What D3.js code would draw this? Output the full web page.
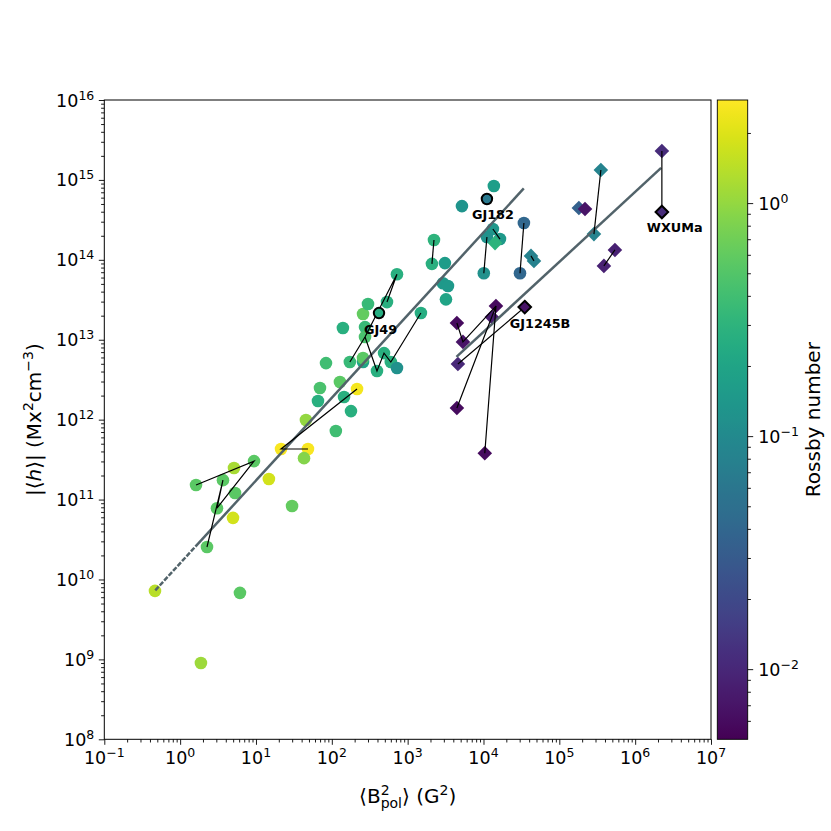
<!DOCTYPE html>
<html><head><meta charset="utf-8">
<script src="https://cdn.jsdelivr.net/npm/d3@7"></script>
<style>body{margin:0;background:#fff} text{font-family:"DejaVu Sans",sans-serif;fill:#000}</style>
</head><body><svg id="c" width="831" height="831"></svg>
<script>
// ---------------- DATA ----------------
// circles: <B_pol^2> (G^2), |<h>| (Mx^2 cm^-3), Rossby number
const circleB = [0.466, 6.15, 1.88, 1.62, 3.67, 5.13, 9.42, 5.29, 3.06, 4.98, 2.26, 14.8, 29.9, 21.4, 48.5, 43, 45.6, 69.8, 65.7, 113, 145, 179, 128, 215, 83.8, 173, 258, 258, 140, 274, 274, 258, 300, 419, 534, 723, 488, 394, 600, 723, 1496, 2223, 2090, 3100, 2920, 3400, 3200, 5200, 13700, 11100, 34100, 13300, 11100, 16500, 10100, 30300];
const circleH = [7.2e9, 6.8e9, 9.0e8, 1.52e11, 1.75e11, 2.48e11, 3.03e11, 1.21e11, 7.8e10, 5.9e10, 2.55e10, 1.81e11, 8.3e10, 4.29e11, 4.29e11, 3.3e11, 9.9e11, 2.49e12, 1.71e12, 7.2e11, 1.92e12, 1.28e12, 2.96e12, 2.42e12, 5.1e12, 5.26e12, 5.26e12, 5.9e12, 1.4e13, 1.44e13, 1.08e13, 2.1e13, 2.8e13, 2.16e13, 2.96e13, 6.6e13, 6.8e12, 4.06e12, 5.26e12, 4.43e12, 2.16e13, 1.77e14, 8.9e13, 9.1e13, 5.1e13, 4.7e13, 3.2e13, 4.7e14, 8.4e14, 5.77e14, 2.89e14, 2.43e14, 1.93e14, 1.82e14, 6.8e13, 6.8e13];
const circleRo = [1.4, 0.55, 1.1, 0.55, 0.55, 1.2, 0.55, 0.55, 0.55, 1.8, 0.55, 1.8, 0.6, 2.6, 2.6, 0.85, 1.0, 0.45, 0.27, 0.4, 0.27, 0.27, 0.55, 2.5, 0.4, 0.35, 0.2, 0.55, 0.27, 0.35, 0.45, 0.6, 0.35, 0.25, 0.27, 0.27, 0.27, 0.27, 0.27, 0.12, 0.25, 0.3, 0.27, 0.16, 0.15, 0.15, 0.2, 0.13, 0.17, 0.065, 0.04, 0.14, 0.12, 0.15, 0.12, 0.04];
const circleTracks = [[3,6,8,4,10],[14,13,23],[34,35,30,25],[30,37,36,38,40],[41,42],[51,53],[52,54],[50,55]];

// diamonds
const diamondB = [14200, 42300, 46300, 14600, 35000, 4460, 12900, 5360, 4600, 4460, 10400, 2.25e6, 2.25e6, 353000, 181000, 218000, 286000, 541000, 387000];
const diamondH = [1.62e14, 1.12e14, 9.7e13, 2.64e13, 2.56e13, 1.62e13, 1.92e13, 9.4e12, 4.97e12, 1.40e12, 3.8e11, 2.3e15, 3.97e14, 1.33e15, 4.45e14, 4.32e14, 2.1e14, 1.33e14, 8.4e13];
const diamondRo = [0.3, 0.08, 0.08, 0.006, 0.007, 0.006, 0.008, 0.007, 0.01, 0.006, 0.006, 0.011, 0.011, 0.085, 0.035, 0.007, 0.085, 0.009, 0.009];
const diamondTracks = [[5,7,3],[9,3,10],[8,4],[1,2],[11,12],[13,16],[17,18]];

// named stars (highlighted)
const namedStars = ["GJ49", "GJ182", "GJ1245B", "WXUMa"];
const namedKind = ["circle", "circle", "diamond", "diamond"];
const namedIndex = [33, 49, 4, 12];

// power-law fits: log10 h = slope*log10 B + intercept
const fitSlope = [1.035, 0.876];
const fitIntercept = [10.203, 9.594];
const fitXmin = [0.47, 4400];
const fitXmax = [34000, 2.2e6];
const fitDashedBelow = [1.6, 0];

const xMajor = [1e-1,1e0,1e1,1e2,1e3,1e4,1e5,1e6,1e7];
const xExp = ["−1","0","1","2","3","4","5","6","7"];
const yMajor = [1e8,1e9,1e10,1e11,1e12,1e13,1e14,1e15,1e16];
const yExp = ["8","9","10","11","12","13","14","15","16"];
const cbMajor = [1e-2,1e-1,1e0];
const cbExp = ["−2","−1","0"];
const roDomain = [0.005, 2.77];

// ---------------- DRAW ----------------
const svg = d3.select("#c");
const L=104.3, R=711, T=100, B=739.3;
const x = d3.scaleLog().domain([1e-1,1e7]).range([L,R]);
const y = d3.scaleLog().domain([1e8,1e16]).range([B,T]);
const color = d3.scaleSequentialLog(d3.interpolateViridis).domain(roDomain);

function minors(lo, hi){
  const out=[];
  for(let e=Math.floor(Math.log10(lo)); e<=Math.ceil(Math.log10(hi)); e++)
    for(let k=2;k<=9;k++){const v=k*Math.pow(10,e); if(v>lo*1.0001 && v<hi*0.9999) out.push(v);}
  return out;
}
const MAJ=5.5, MIN=3.2;

// axes ticks
const gx = svg.append("g").attr("transform",`translate(0,${B})`);
gx.call(d3.axisBottom(x).tickValues(xMajor).tickSize(MAJ).tickSizeOuter(0).tickFormat(""));
gx.call(g=>g.select(".domain").remove());
const gx2 = svg.append("g").attr("transform",`translate(0,${B})`);
gx2.call(d3.axisBottom(x).tickValues(minors(1e-1,1e7)).tickSize(MIN).tickSizeOuter(0).tickFormat(""));
gx2.call(g=>g.select(".domain").remove());
const gy = svg.append("g").attr("transform",`translate(${L},0)`);
gy.call(d3.axisLeft(y).tickValues(yMajor).tickSize(MAJ).tickSizeOuter(0).tickFormat(""));
gy.call(g=>g.select(".domain").remove());
const gy2 = svg.append("g").attr("transform",`translate(${L},0)`);
gy2.call(d3.axisLeft(y).tickValues(minors(1e8,1e16)).tickSize(MIN).tickSizeOuter(0).tickFormat(""));
gy2.call(g=>g.select(".domain").remove());
svg.selectAll(".tick line").attr("stroke","#000").attr("stroke-width",0.9);

function powLabel(sel, exp, anchor){
  sel.attr("text-anchor",anchor).attr("font-size",17.5);
  sel.append("tspan").text("10");
  sel.append("tspan").attr("dy",-7).attr("font-size",12.5).text(exp);
}
xMajor.forEach((v,i)=>powLabel(svg.append("text").attr("x",x(v)).attr("y",B+25),xExp[i],"middle"));
yMajor.forEach((v,i)=>powLabel(svg.append("text").attr("x",L-10).attr("y",y(v)+6.5),yExp[i],"end"));

// clip for plot area
svg.append("clipPath").attr("id","clip").append("rect").attr("x",L).attr("y",T).attr("width",R-L).attr("height",B-T);
const plot = svg.append("g").attr("clip-path","url(#clip)");

// circles
const circles = circleB.map((b,i)=>({b, h:circleH[i], ro:circleRo[i]}));
const diamonds = diamondB.map((b,i)=>({b, h:diamondH[i], ro:diamondRo[i]}));
const named = new Set(namedStars.map((n,i)=>namedKind[i]+namedIndex[i]));

plot.selectAll("circle.pt").data(circles.filter((d,i)=>!named.has("circle"+i))).join("circle")
  .attr("class","pt").attr("cx",d=>x(d.b)).attr("cy",d=>y(d.h)).attr("r",6.3).attr("fill",d=>color(d.ro));
const diamondPath = s => `M0,${-s}L${s},0L0,${s}L${-s},0Z`;
plot.selectAll("path.dm").data(diamonds.filter((d,i)=>!named.has("diamond"+i))).join("path")
  .attr("class","dm").attr("d",diamondPath(7.3)).attr("transform",d=>`translate(${x(d.b)},${y(d.h)})`).attr("fill",d=>color(d.ro));

// fit lines
const line = d3.line().x(d=>x(d[0])).y(d=>y(d[1]));
fitSlope.forEach((s,i)=>{
  const f = b => Math.pow(10, s*Math.log10(b)+fitIntercept[i]);
  const split = fitDashedBelow[i] > fitXmin[i] ? fitDashedBelow[i] : fitXmin[i];
  if (split > fitXmin[i]) {
    plot.append("path").attr("d",line([[fitXmin[i],f(fitXmin[i])],[split,f(split)]]))
      .attr("stroke","#52636a").attr("stroke-width",2.5).attr("fill","none").attr("stroke-dasharray","5,1.6");
  }
  plot.append("path").attr("d",line([[split,f(split)],[fitXmax[i],f(fitXmax[i])]]))
    .attr("stroke","#52636a").attr("stroke-width",2.5).attr("fill","none");
});

// tracks
circleTracks.forEach(t=>plot.append("path").attr("d",line(t.map(i=>[circleB[i],circleH[i]])))
  .attr("stroke","#000").attr("stroke-width",1.2).attr("fill","none"));
diamondTracks.forEach(t=>plot.append("path").attr("d",line(t.map(i=>[diamondB[i],diamondH[i]])))
  .attr("stroke","#000").attr("stroke-width",1.2).attr("fill","none"));

// named stars
namedStars.forEach((n,k)=>{
  const i = namedIndex[k];
  const isC = namedKind[k]==="circle";
  const b = isC?circleB[i]:diamondB[i], h = isC?circleH[i]:diamondH[i], ro = isC?circleRo[i]:diamondRo[i];
  if (isC) plot.append("circle").attr("cx",x(b)).attr("cy",y(h)).attr("r",5.2).attr("fill",color(ro)).attr("stroke","#000").attr("stroke-width",2);
  else plot.append("path").attr("d",diamondPath(6.3)).attr("transform",`translate(${x(b)},${y(h)})`).attr("fill",color(ro)).attr("stroke","#000").attr("stroke-width",2);
  svg.append("text").attr("x",x(b)-15).attr("y",y(h)+20.5).attr("font-size",12.8).attr("font-weight","bold").text(n);
});

// frame
svg.append("rect").attr("x",L).attr("y",T).attr("width",R-L).attr("height",B-T).attr("fill","none").attr("stroke","#000").attr("stroke-width",1);

// axis labels
const xl = svg.append("text").attr("x",(L+R)/2).attr("y",803).attr("text-anchor","middle").attr("font-size",20);
xl.append("tspan").text("⟨B");
xl.append("tspan").attr("dy",-8).attr("font-size",14).text("2");
xl.append("tspan").attr("dx",-8.9).attr("dy",13).attr("font-size",14).text("pol");
xl.append("tspan").attr("dy",-5).text("⟩ (G");
xl.append("tspan").attr("dy",-8).attr("font-size",14).text("2");
xl.append("tspan").attr("dy",8).text(")");

const yl = svg.append("text").attr("transform",`translate(41,${(T+B)/2}) rotate(-90)`).attr("text-anchor","middle").attr("font-size",20);
yl.append("tspan").text("|⟨");
yl.append("tspan").attr("font-style","italic").text("h");
yl.append("tspan").text("⟩| (Mx");
yl.append("tspan").attr("dy",-8).attr("font-size",14).text("2");
yl.append("tspan").attr("dy",8).text("cm");
yl.append("tspan").attr("dy",-8).attr("font-size",14).text("−3");
yl.append("tspan").attr("dy",8).text(")");

// colorbar
const cbL=717.3, cbR=747.7;
const cy = d3.scaleLog().domain(roDomain).range([B,T]);
const grad = svg.append("defs").append("linearGradient").attr("id","vir").attr("x1",0).attr("y1",1).attr("x2",0).attr("y2",0);
d3.range(0,1.0001,0.02).forEach(t=>grad.append("stop").attr("offset",t).attr("stop-color",color(Math.pow(10, Math.log10(roDomain[0])+t*(Math.log10(roDomain[1])-Math.log10(roDomain[0]))))));
svg.append("rect").attr("x",cbL).attr("y",T).attr("width",cbR-cbL).attr("height",B-T).attr("fill","url(#vir)").attr("stroke","#000").attr("stroke-width",0.9);
const gc = svg.append("g").attr("transform",`translate(${cbR},0)`);
gc.call(d3.axisRight(cy).tickValues(cbMajor).tickSize(MAJ).tickSizeOuter(0).tickFormat(""));
gc.call(g=>g.select(".domain").remove());
const gc2 = svg.append("g").attr("transform",`translate(${cbR},0)`);
gc2.call(d3.axisRight(cy).tickValues(minors(roDomain[0],roDomain[1])).tickSize(MIN).tickSizeOuter(0).tickFormat(""));
gc2.call(g=>g.select(".domain").remove());
svg.selectAll(".tick line").attr("stroke","#000").attr("stroke-width",0.9);
cbMajor.forEach((v,i)=>powLabel(svg.append("text").attr("x",cbR+MAJ+5).attr("y",cy(v)+6.5),cbExp[i],"start"));
svg.append("text").attr("transform",`translate(820,${(T+B)/2}) rotate(-90)`).attr("text-anchor","middle").attr("font-size",20).text("Rossby number");
</script></body></html>
